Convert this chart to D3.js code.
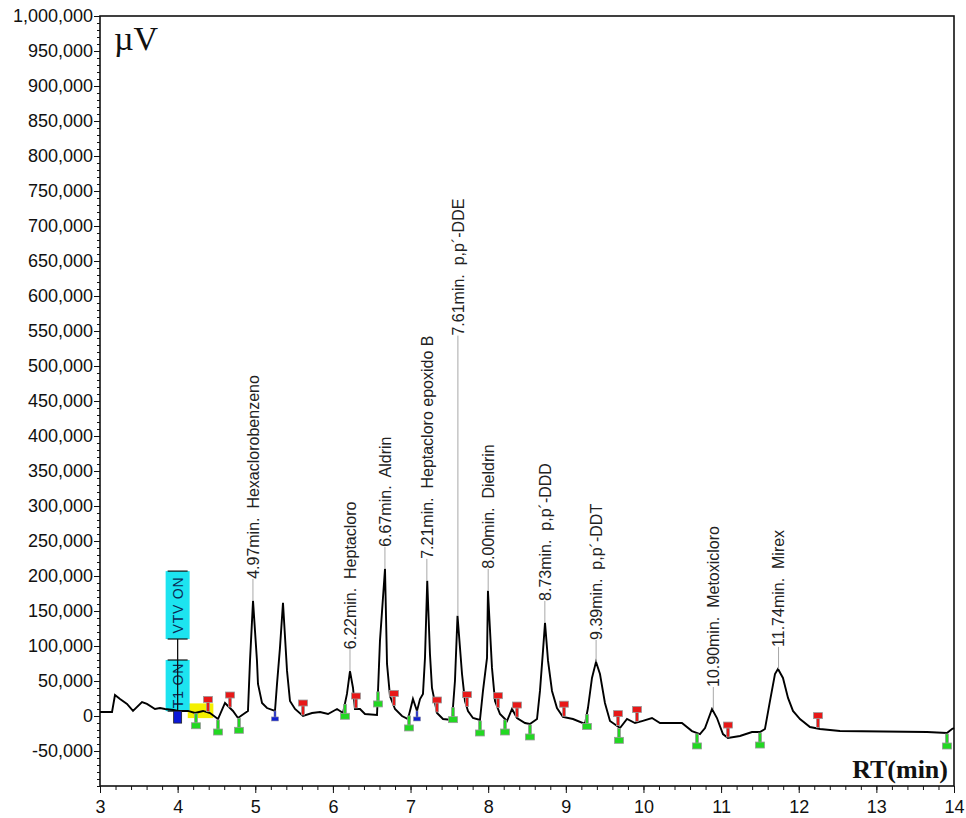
<!DOCTYPE html>
<html>
<head>
<meta charset="utf-8">
<script src="https://cdn.jsdelivr.net/npm/d3@7"></script>
<style>
  body { margin: 0; background: #fff; }
  .tick text { font-family: "Liberation Sans", Arial, sans-serif; font-size: 18px; fill: #111; }
  .peakLabel { font-family: "Liberation Sans", Arial, sans-serif; font-size: 16px; fill: #222; }
</style>
</head>
<body>
<div class="chart"></div>
<script>
var svgWidth = 966;
var svgHeight = 818;

var margin = { top: 16, right: 12, bottom: 32, left: 100 };
var width = svgWidth - margin.left - margin.right;
var height = svgHeight - margin.top - margin.bottom;

// chromatogram trace (min, µV)
var traceTime = [
  3.00, 3.155, 3.193, 3.258, 3.348, 3.425, 3.541, 3.605, 3.708, 3.773, 3.837, 3.95, 4.005,
  4.133, 4.224, 4.327, 4.417, 4.520, 4.610, 4.674, 4.713, 4.777, 4.868, 4.906, 4.932, 4.971,
  5.022, 5.035, 5.087, 5.151, 5.254, 5.280, 5.318, 5.357, 5.409, 5.447, 5.512, 5.615, 5.731,
  5.834, 5.937, 6.053, 6.130, 6.181, 6.220, 6.259, 6.284, 6.349, 6.413, 6.568, 6.581, 6.606,
  6.671, 6.697, 6.735, 6.800, 6.890, 6.967, 7.031, 7.083, 7.122, 7.160, 7.186, 7.215, 7.250,
  7.276, 7.341, 7.418, 7.534, 7.572, 7.605, 7.663, 7.701, 7.740, 7.804, 7.894, 7.933, 7.985,
  7.997, 8.049, 8.088, 8.152, 8.242, 8.307, 8.371, 8.474, 8.538, 8.629, 8.667, 8.706, 8.732,
  8.771, 8.822, 8.886, 8.963, 9.092, 9.247, 9.285, 9.337, 9.389, 9.440, 9.504, 9.569, 9.698,
  9.788, 9.891, 9.981, 10.110, 10.213, 10.342, 10.496, 10.625, 10.728, 10.793, 10.883, 10.947,
  11.024, 11.088, 11.243, 11.398, 11.501, 11.565, 11.630, 11.694, 11.733, 11.797, 11.862,
  11.926, 12.016, 12.145, 12.274, 12.531, 13.652, 13.909, 13.974, 14.0
];
var traceValue = [
  5700, 5700, 30000, 24300, 17200, 7200, 20000, 17200, 10000, 11400, 10000, 8600, 7200,
  7200, 4300, 7200, 4300, -4300, 18600, 11400, 7200, -2900, 4300, 7200, 78700, 164500,
  78700, 45800, 18600, 11400, 7200, 45800, 97300, 161700, 64400, 21500, 10000, 0, 4300,
  5700, 2900, 10000, 4300, 31500, 64000, 40000, 10000, 10000, 2900, 1400, 35800, 107300,
  210300, 74400, 28600, 10000, 0, -4300, 24300, 7200, 24300, 31500, 83000, 193100, 88700,
  40000, 4300, -4300, -5700, 50000, 143000, 60000, 21500, 7200, -2900, -5700, 35800, 83000,
  178800, 68700, 21500, 2900, -7200, 10000, -2900, -10000, -11400, -4300, 35800, 93000, 133000,
  78700, 35800, 11400, -1400, -4300, -11400, 11400, 54400, 77300, 60000, 18600, -7200, -17200,
  -4300, -10000, -7200, -2900, -10000, -10000, -10000, -21500, -25800, -17200, 10000, -2900,
  -25800, -31500, -28600, -22900, -22900, -18600, 21500, 60000, 67200, 54400, 25800,
  7200, -4300, -15700, -18600, -21500, -22900, -24300, -18600, -17200
];

// identified peaks
var peakTime = [4.97, 6.22, 6.67, 7.21, 7.61, 8.00, 8.73, 9.39, 10.90, 11.74];
var peakHeight = [164500, 64000, 210300, 193100, 143000, 178800, 133000, 77300, 10000, 67200];
var peakName = ["Hexaclorobenzeno", "Heptacloro", "Aldrin", "Heptacloro epoxido B", "p,p´-DDE",
  "Dieldrin", "p,p´-DDD", "p,p´-DDT", "Metoxicloro", "Mirex"];

// integration marks
var startMarks = [4.236, 4.520, 4.790, 6.156, 6.581, 6.980, 7.547, 7.894, 8.216, 8.538, 9.272, 9.685, 10.690, 11.501, 13.909];
var endMarks = [4.391, 4.674, 5.615, 6.297, 6.787, 7.341, 7.727, 8.126, 8.371, 8.976, 9.672, 9.917, 11.088, 12.248];
var splitMarks = [5.254, 7.083];

// time events
var eventTime = 4.0;
var eventNames = ["VTV ON", "T1 ON"];
var yMajorTicks = d3.range(-50000, 1000001, 50000);
var xMajorTicks = d3.range(3, 15, 1);

var svg = d3.select(".chart")
  .append("svg")
  .attr("width", svgWidth)
  .attr("height", svgHeight);

var x = d3.scaleLinear().domain([3, 14]).range([margin.left, margin.left + width]);
var y = d3.scaleLinear().domain([-100000, 1000000]).range([margin.top + height, margin.top]);

var trace = traceTime.map((t, i) => ({ t: t, v: traceValue[i] }));
var bis = d3.bisector(d => d.t).left;
function traceAt(t) {
  var i = bis(trace, t);
  if (i <= 0) return trace[0].v;
  if (i >= trace.length) return trace[trace.length - 1].v;
  var a = trace[i - 1], b = trace[i];
  return a.v + (b.v - a.v) * (t - a.t) / (b.t - a.t);
}

// axes
var fmt = v => d3.format(",")(v).replace("\u2212", "-");

svg.append("g")
  .attr("transform", `translate(${margin.left},0)`)
  .call(d3.axisLeft(y).tickValues(d3.range(-100000, 1000001, 10000)).tickSize(3).tickFormat(""))
  .call(g => g.select(".domain").remove());

svg.append("g")
  .attr("transform", `translate(${margin.left},0)`)
  .call(d3.axisLeft(y).tickValues(yMajorTicks).tickSize(6).tickPadding(1).tickFormat(fmt))
  .call(g => g.select(".domain").remove());

svg.append("g")
  .attr("transform", `translate(0,${margin.top + height})`)
  .call(d3.axisBottom(x).tickValues(d3.range(3, 14.01, 0.2)).tickSize(4).tickFormat(""))
  .call(g => g.select(".domain").remove());

svg.append("g")
  .attr("transform", `translate(0,${margin.top + height})`)
  .call(d3.axisBottom(x).tickValues(xMajorTicks).tickSize(7).tickPadding(7).tickFormat(d3.format("d")))
  .call(g => g.select(".domain").remove());

svg.selectAll(".tick line").attr("stroke", "#111");

// frame
svg.append("rect")
  .attr("x", margin.left).attr("y", margin.top)
  .attr("width", width).attr("height", height)
  .attr("fill", "none").attr("stroke", "#111").attr("stroke-width", 1.6);

svg.append("text")
  .attr("x", 114).attr("y", 50)
  .attr("font-family", "Liberation Serif, Times New Roman, serif")
  .attr("font-size", 34)
  .attr("fill", "#111")
  .text("µV");

svg.append("text")
  .attr("x", 948).attr("y", 778)
  .attr("text-anchor", "end")
  .attr("font-family", "Liberation Serif, Times New Roman, serif")
  .attr("font-weight", "bold")
  .attr("font-size", 26)
  .attr("fill", "#111")
  .text("RT(min)");

var plot = svg.append("g");

// time event boxes
var ex = x(eventTime);
plot.append("rect")
  .attr("x", x(4.13)).attr("y", y(18000))
  .attr("width", x(4.46) - x(4.13)).attr("height", y(-3000) - y(18000))
  .attr("fill", "#f4f000");

var boxes = [[207000, 110000], [80000, 7000]];
boxes.forEach(function(b, i) {
  plot.append("rect")
    .attr("x", ex - 12).attr("y", y(b[0]))
    .attr("width", 24).attr("height", y(b[1]) - y(b[0]))
    .attr("fill", "#1de4f0");
  plot.append("text")
    .attr("transform", `translate(${ex},${(y(b[0]) + y(b[1])) / 2}) rotate(-90)`)
    .attr("text-anchor", "middle")
    .attr("dy", "0.36em")
    .attr("font-family", "Liberation Sans, Arial, sans-serif")
    .attr("font-size", 14)
    .attr("letter-spacing", 0.8)
    .attr("fill", "#0b2a55")
    .text(eventNames[i]);
  [b[0], b[1]].forEach(function(v) {
    plot.append("line")
      .attr("x1", ex - 10).attr("x2", ex + 10)
      .attr("y1", y(v)).attr("y2", y(v))
      .attr("stroke", "#111").attr("stroke-width", 1.2);
  });
});
plot.append("line")
  .attr("x1", ex).attr("x2", ex)
  .attr("y1", y(110000)).attr("y2", y(7000))
  .attr("stroke", "#111").attr("stroke-width", 1.3);

// trace
var line = d3.line().x(d => x(d.t)).y(d => y(d.v));
plot.append("path")
  .datum(trace)
  .attr("d", line)
  .attr("fill", "none")
  .attr("stroke", "#000")
  .attr("stroke-width", 1.9)
  .attr("stroke-linejoin", "miter");

// event marker square
plot.append("rect")
  .attr("x", ex - 4).attr("y", y(7000))
  .attr("width", 8).attr("height", 12)
  .attr("fill", "#0c18d8").attr("stroke", "#222").attr("stroke-width", 0.8);

// peak leaders and labels
var prev = null;
peakTime.forEach(function(t, i) {
  var px = x(t), top = y(peakHeight[i]);
  var label = plot.append("text")
    .attr("class", "peakLabel")
    .attr("dy", "0.36em")
    .attr("xml:space", "preserve")
    .text(`${t.toFixed(2)}min.  ${peakName[i]}`);
  var len = label.node().getComputedTextLength();
  var bottom = top - 22;
  if (prev && px - prev.x < 33 && bottom - len < prev.bottom && bottom > prev.top) {
    bottom = prev.top;
  }
  label.attr("transform", `translate(${px},${bottom}) rotate(-90)`);
  plot.append("line")
    .attr("x1", px).attr("x2", px)
    .attr("y1", top).attr("y2", bottom)
    .attr("stroke", "#a8a8a8").attr("stroke-width", 1);
  prev = { x: px, top: bottom - len, bottom: bottom };
});

// integration markers
startMarks.forEach(function(t) {
  var mx = x(t), my = y(traceAt(t));
  plot.append("rect").attr("x", mx - 1.5).attr("y", my + 1).attr("width", 3).attr("height", 10)
    .attr("fill", "#22d822").attr("stroke", "#9a9a9a").attr("stroke-width", 0.8);
  plot.append("rect").attr("x", mx - 4.5).attr("y", my + 10).attr("width", 9).attr("height", 6)
    .attr("fill", "#22d822").attr("stroke", "#9a9a9a").attr("stroke-width", 0.8);
});

endMarks.forEach(function(t) {
  var mx = x(t), my = y(traceAt(t));
  plot.append("rect").attr("x", mx - 1.5).attr("y", my - 11).attr("width", 3).attr("height", 10)
    .attr("fill", "#e81818").attr("stroke", "#9a9a9a").attr("stroke-width", 0.8);
  plot.append("rect").attr("x", mx - 4.5).attr("y", my - 16).attr("width", 9).attr("height", 6)
    .attr("fill", "#e81818").attr("stroke", "#9a9a9a").attr("stroke-width", 0.8);
});

splitMarks.forEach(function(t) {
  var mx = x(t), my = y(traceAt(t));
  plot.append("rect").attr("x", mx - 1).attr("y", my).attr("width", 2).attr("height", 7)
    .attr("fill", "#1020d0").attr("stroke", "#8a8aa0").attr("stroke-width", 0.6);
  plot.append("rect").attr("x", mx - 3.5).attr("y", my + 6).attr("width", 7).attr("height", 4)
    .attr("fill", "#1020d0").attr("stroke", "#8a8aa0").attr("stroke-width", 0.6);
});
</script>
</body>
</html>
